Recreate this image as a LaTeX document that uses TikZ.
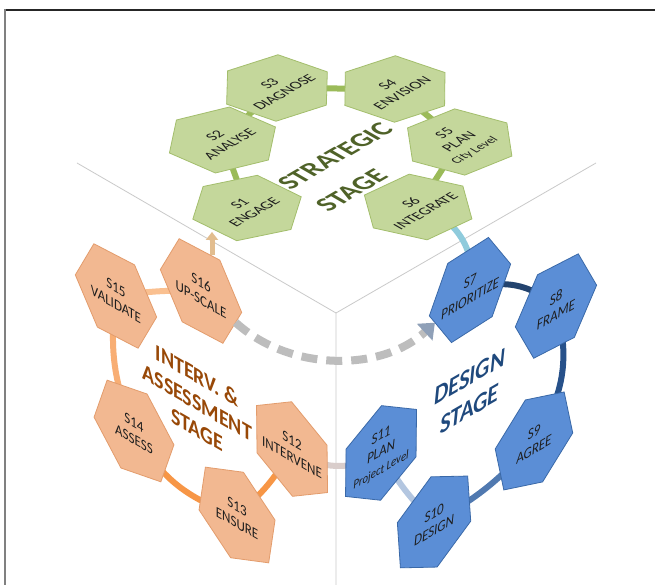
\documentclass[tikz,border=0pt]{standalone}
\usepackage{fontspec}
\setmainfont{Carlito}
\usetikzlibrary{shapes.geometric,arrows.meta}
\pgfdeclarelayer{bg}
\pgfsetlayers{bg,main}
\definecolor{gfill}{HTML}{C4D79B}
\definecolor{gline}{HTML}{A3BE6C}
\definecolor{gconn}{HTML}{9BBB59}
\definecolor{gdark}{HTML}{4F6228}
\definecolor{ofill}{HTML}{F2B891}
\definecolor{oline}{HTML}{E39C6C}
\definecolor{odark}{HTML}{984807}
\definecolor{bfill}{HTML}{5B8ED6}
\definecolor{bline}{HTML}{3A69A8}
\definecolor{bdark}{HTML}{1F497D}
\definecolor{txt}{HTML}{1E1E1E}
\definecolor{cubegray}{HTML}{CACACA}
\definecolor{oconnA}{HTML}{FAC090}
\definecolor{oconnB}{HTML}{F8AE74}
\definecolor{oconnC}{HTML}{F79646}
\definecolor{bconnA}{HTML}{23436E}
\definecolor{bconnB}{HTML}{27518A}
\definecolor{bconnC}{HTML}{5079B0}
\definecolor{bconnD}{HTML}{B3C6E0}
\definecolor{cyanconn}{HTML}{8FCBDC}
\definecolor{grayconn}{HTML}{D9CDCB}
\definecolor{tan}{HTML}{E2BD8F}
\definecolor{dashgray}{HTML}{BDBDBD}
\definecolor{dashtip}{HTML}{8FA0B8}
\begin{document}
\begin{tikzpicture}[x=1pt,y=1pt,
  hexo/.style={regular polygon, regular polygon sides=6, minimum size=94pt, inner sep=0pt, outer sep=0pt, transform shape, line width=0.8pt},
  ghex/.style={hexo, fill=gfill, draw=gline},
  ohex/.style={hexo, fill=ofill, draw=oline},
  bhex/.style={hexo, fill=bfill, draw=bline},
  lbl/.style={transform shape, align=center, inner sep=0pt, text=txt, font=\fontsize{15}{17}\selectfont},
  blbl/.style={lbl, font=\fontsize{15}{17}\selectfont\itshape},
  stagelbl/.style={transform shape, align=center, inner sep=0pt, font=\bfseries\fontsize{23}{27}\selectfont},
  conn/.style={line width=6pt},
  cube/.style={draw=cubegray, line width=0.8pt},
]
\useasboundingbox (0,0) rectangle (655,585);

% ---------- top face (green) ----------
\begin{scope}[cm={0.866,0.5,-0.866,0.5,(335,437)}]
  \node[ghex, shape border rotate=214.7] (s1) at (-110.8,-9.2) {};
  \node[ghex, shape border rotate=158]   (s2) at (-57,73) {};
  \node[ghex, shape border rotate=104]   (s3) at (26.5,93.5) {};
  \node[ghex, shape border rotate=44.6]  (s4) at (93.6,24.4) {};
  \node[ghex, shape border rotate=-10]   (s5) at (78,-66) {};
  \node[ghex, shape border rotate=-66]   (s6) at (-11,-107) {};
  \node[lbl] (t1) at (s1) {S1\\ENGAGE};
  \node[lbl] (t2) at (s2) {S2\\ANALYSE};
  \node[lbl] (t3) at (s3) {S3\\DIAGNOSE};
  \node[lbl] (t4) at (s4) {S4\\ENVISION};
  \node[lbl] (t5) at (s5) {S5\\PLAN\\{\fontsize{12.5}{14}\selectfont City Level}};
  \node[lbl] (t6) at (s6) {S6\\INTEGRATE};
  \node[stagelbl, text=gdark, font=\bfseries\fontsize{27}{30}\selectfont] (st1a) at (-8,-8) {STRATEGIC};
  \node[stagelbl, text=gdark, font=\bfseries\fontsize{27}{30}\selectfont] (st1b) at (-33,-52) {STAGE};
\end{scope}

% ---------- left face (orange) ----------
\begin{scope}[cm={0.866,-0.5,0,1,(205,185)}]
  \node[ohex, shape border rotate=30.7]  (s12) at (100.5,1.2) {};
  \node[ohex, shape border rotate=321]   (s13) at (37,-96.5) {};
  \node[ohex, shape border rotate=251.3] (s14) at (-82,-72) {};
  \node[ohex, shape border rotate=182.9] (s15) at (-102.8,52.6) {};
  \node[ohex, shape border rotate=122.5] (s16) at (-4.6,106.7) {};
  \node[lbl] (t12) at (s12) {S12\\INTERVENE};
  \node[lbl] (t13) at (s13) {S13\\ENSURE};
  \node[lbl] (t14) at (s14) {S14\\ASSESS};
  \node[lbl] (t15) at (s15) {S15\\VALIDATE};
  \node[lbl] (t16) at (s16) {S16\\UP-SCALE};
  \node[stagelbl, text=odark] (st3) at (-9,-7) {INTERV. \&\\ASSESSMENT\\STAGE};
\end{scope}

% ---------- right face (blue) ----------
\begin{scope}[cm={0.866,0.5,0,1,(475,185)}]
  \node[bhex, shape border rotate=123]   (s7)  at (-5.8,112.9) {};
  \node[bhex, shape border rotate=56.8]  (s8)  at (93.5,47.2) {};
  \node[bhex, shape border rotate=-17.8] (s9)  at (68.1,-75) {};
  \node[bhex, shape border rotate=-85.7] (s10) at (-47.3,-98.3) {};
  \node[bhex, shape border rotate=209.3] (s11) at (-108.5,1.3) {};
  \node[blbl] (t7)  at (s7)  {S7\\PRIORITIZE};
  \node[blbl] (t8)  at (s8)  {S8\\FRAME};
  \node[blbl] (t9)  at (s9)  {S9\\AGREE};
  \node[blbl] (t10) at (s10) {S10\\DESIGN};
  \node[blbl] (t11) at (s11) {S11\\PLAN\\{\fontsize{12.5}{14}\selectfont Project Level}};
  \node[stagelbl, text=bdark, font=\bfseries\itshape\fontsize{26}{32}\selectfont] (st2) at (-6,10) {DESIGN\\STAGE};
\end{scope}

% ---------- background: frame, cube edges, ring connectors ----------
\begin{pgfonlayer}{bg}
  \fill[white] (0,0) rectangle (655,585);
  \draw[line width=1.5pt, black!85] (5,575) -- (655,575);
  \draw[line width=1.8pt, black!50] (5,0) -- (5,575.75);
  \coordinate (cc) at (336,272);
  \coordinate (cl) at (77,422);
  \coordinate (cr) at (596,422);
  \coordinate (cb) at (336,0);
  \draw[cube] (cl) -- (cc) -- (cr) (cc) -- (cb);
  % green ring
  \draw[conn, gconn] (s1.center) -- (s2.center);
  \draw[conn, gconn] (s2.center) -- (s3.center);
  \draw[conn, gconn] (s3.center) -- (s4.center);
  \draw[conn, gconn] (s4.center) -- (s5.center);
  \draw[conn, gconn] (s5.center) -- (s6.center);
  % green to blue
  \draw[conn, cyanconn] (s6.center) to[bend left=45] (s7.center);
  % blue ring
  \draw[conn, bconnA] (s7.center) to[bend left=30] (s8.center);
  \draw[conn, bconnB] (s8.center) to[bend left=25] (s9.center);
  \draw[conn, bconnC] (s9.center) to[bend left=10] (s10.center);
  \draw[conn, bconnD] (s10.center) to[bend left=8] (s11.center);
  % blue to orange
  \draw[conn, grayconn] (s11.center) to[bend left=35] (s12.center);
  % orange ring
  \draw[conn, oconnC] (s12.center) to[bend left=10] (s13.center);
  \draw[conn, oconnC] (s13.center) to[bend left=22] (s14.center);
  \draw[conn, oconnB] (s14.center) to[bend left=15] (s15.center);
  \draw[conn, oconnA] (s15.center) to[bend left=5] (s16.center);
\end{pgfonlayer}

% ---------- arrows ----------
\coordinate (a16) at (212,330);
\coordinate (a1) at (212,353);
\draw[tan, line width=5pt, -{Triangle[width=12pt,length=8pt]}] (a16) -- (a1);
\draw[dashgray, line width=8pt, dash pattern=on 16pt off 9pt,
  -{Triangle[width=22pt,length=14pt,color=dashtip]}]
  (s16) .. controls (290,213) and (382,213) .. (s7);
\end{tikzpicture}
\end{document}
